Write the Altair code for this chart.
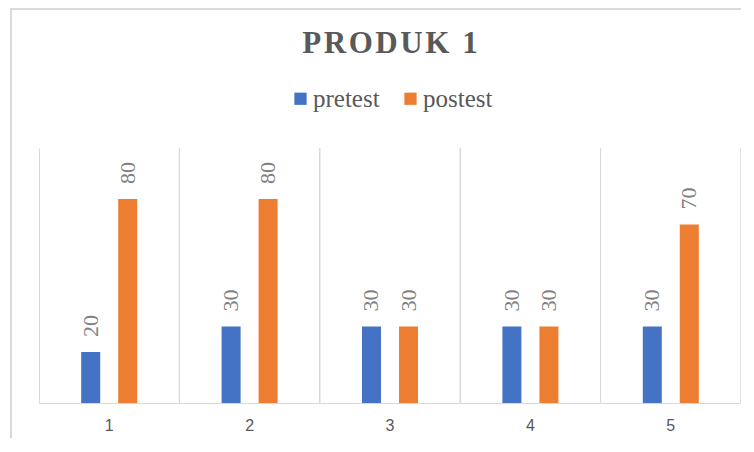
import altair as alt
import pandas as pd

categories = ["1", "2", "3", "4", "5"]
series = ["pretest", "postest"]
pretest = [20, 30, 30, 30, 30]
postest = [80, 80, 30, 30, 70]
colors = ["#4472C4", "#ED7D31"]
title_text = "\u200a".join("PRODUK 1")

rows = []
for c, a, b in zip(categories, pretest, postest):
    rows.append({"cat": c, "series": "pretest", "value": a})
    rows.append({"cat": c, "series": "postest", "value": b})
df = pd.DataFrame(rows)

x_enc = alt.X("cat:N", sort=categories, title=None,
              scale=alt.Scale(paddingInner=0, paddingOuter=0),
              axis=alt.Axis(labelAngle=0, ticks=False, grid=True, gridColor="#d9d9d9",
                            domainColor="#d9d9d9", bandPosition=0,
                            labelFont="Liberation Sans", labelFontSize=16,
                            labelColor="#595959", labelPadding=14))
xo_enc = alt.XOffset("series:N", sort=series,
                     scale=alt.Scale(paddingInner=0.4865, paddingOuter=0, range=[42.2, 98.2]))
y_enc = alt.Y("value:Q", scale=alt.Scale(domain=[0, 100]), axis=None)

base = alt.Chart(df)

bars = base.mark_bar().encode(
    x=x_enc, xOffset=xo_enc, y=y_enc,
    color=alt.Color("series:N", sort=series,
                    scale=alt.Scale(domain=series, range=colors),
                    legend=alt.Legend(title=None, orient="none", direction="horizontal",
                                      legendX=249, legendY=-62,
                                      symbolType="square", symbolSize=150,
                                      symbolStrokeWidth=0, labelFont="Liberation Serif",
                                      labelFontSize=25, labelColor="#595959",
                                      labelOffset=0, columnPadding=18)),
)

labels = base.mark_text(angle=270, align="left", baseline="middle", dx=15,
                        font="Liberation Serif", fontSize=22, color="#808080").encode(
    x=alt.X("cat:N", sort=categories), xOffset=xo_enc, y=y_enc,
    text=alt.Text("value:Q"),
)

right_edge = base.mark_rule(color="#d9d9d9", strokeWidth=1).encode(
    x=alt.X("cat:N", sort=categories, bandPosition=1),
)

frame_df = pd.DataFrame({"k": [0]})
left_border = alt.Chart(frame_df).mark_rule(color="#d9d9d9", strokeWidth=2, clip=False).encode(
    x=alt.value(-28), y=alt.value(-140), y2=alt.value(290))
top_border = alt.Chart(frame_df).mark_rule(color="#d9d9d9", strokeWidth=2, clip=False).encode(
    x=alt.value(-29), x2=alt.value(702), y=alt.value(-139))

chart = alt.layer(bars, right_edge, labels, left_border, top_border).properties(
    width=702, height=255,
    autosize=alt.AutoSizeParams(type="none"),
    padding={"left": 31, "top": 140, "right": 0, "bottom": 35},
    title=alt.TitleParams(title_text, font="Liberation Serif", fontSize=31,
                          fontWeight="bold", color="#595959", anchor="middle",
                          offset=-53),
).configure_view(stroke=None)

chart.save("out.html", embed_options={"renderer": "svg", "actions": False})
